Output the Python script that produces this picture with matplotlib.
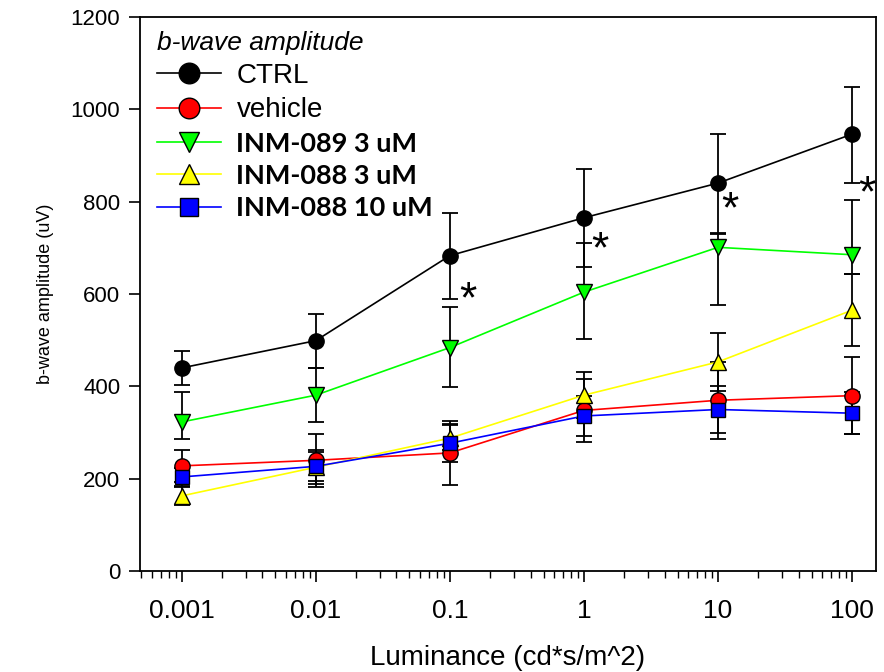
import numpy as np
import matplotlib
matplotlib.use("Agg")
import matplotlib.pyplot as plt
from matplotlib.font_manager import FontProperties

plt.rcParams['font.family'] = ['Liberation Sans', 'DejaVu Sans']

# -------------------------
# Datos
# -------------------------
luminance = [0.001, 0.01, 0.1, 1, 10, 100]

ctrl = [440, 499, 683, 765, 840, 946]
ctrl_lo = [36, 60, 93, 107, 110, 105]
ctrl_hi = [37, 58, 93, 105, 107, 102]

vehicle = [228, 240, 256, 348, 370, 380]
vehicle_lo = [36, 58, 70, 68, 84, 83]
vehicle_hi = [34, 58, 70, 68, 82, 83]

inm089_3 = [323, 381, 484, 604, 701, 685]
inm089_3_lo = [37, 58, 85, 101, 125, 42]
inm089_3_hi = [65, 58, 88, 106, 30, 118]

inm088_3 = [163, 225, 288, 381, 453, 565]
inm088_3_lo = [20, 37, 25, 50, 63, 78]
inm088_3_hi = [20, 37, 30, 50, 63, 78]

inm088_10 = [204, 227, 277, 336, 350, 342]
inm088_10_lo = [20, 31, 40, 44, 50, 45]
inm088_10_hi = [20, 31, 40, 44, 50, 45]

# asteriscos (posicion en datos)
star_x = [0.136, 1.31, 12.3, 129]
star_y = [585, 693, 780, 815]

series = [
    ("CTRL", ctrl, ctrl_lo, ctrl_hi, "black", "o"),
    ("vehicle", vehicle, vehicle_lo, vehicle_hi, "#ff0000", "o"),
    ("INM-089 3 uM", inm089_3, inm089_3_lo, inm089_3_hi, "#00ff00", "v"),
    ("INM-088 3 uM", inm088_3, inm088_3_lo, inm088_3_hi, "#ffff00", "^"),
    ("INM-088 10 uM", inm088_10, inm088_10_lo, inm088_10_hi, "#0000ff", "s"),
]

# -------------------------
# Figura
# -------------------------
fig = plt.figure(figsize=(8.84, 6.72), dpi=100)
ax = fig.add_axes([0.158, 0.150, 0.833, 0.825])

for name, y, lo, hi, col, mk in series:
    ax.errorbar(luminance, y, yerr=[lo, hi], fmt='none', ecolor='black',
                elinewidth=1.3, capsize=6, capthick=1.3, zorder=2)

for name, y, lo, hi, col, mk in series:
    ms = 10 if mk == "s" else 11
    ax.plot(luminance, y, color=col, lw=1.2, marker=mk, ms=ms,
            mfc=col, mec='black', mew=1.0, label=name, zorder=3)

for sx, sy in zip(star_x, star_y):
    ax.text(sx, sy, '*', fontsize=32, ha='center', va='center', color='black')

ax.set_xscale('log')
ax.set_xlim(4.86e-4, 151)
ax.set_ylim(0, 1200)
ax.set_xticks(luminance)
ax.set_xticklabels(['0.001', '0.01', '0.1', '1', '10', '100'])
ax.set_yticks([0, 200, 400, 600, 800, 1000, 1200])

ax.tick_params(axis='x', which='major', direction='out', length=8, width=1.2,
               labelsize=19, pad=12)
ax.tick_params(axis='x', which='minor', direction='out', length=5, width=1.0)
ax.tick_params(axis='y', direction='out', length=8, width=1.2, labelsize=16, pad=6)

for sp in ax.spines.values():
    sp.set_linewidth(1.3)

ax.set_xlabel('Luminance (cd*s/m^2)', fontsize=20, labelpad=16)
ax.set_ylabel('b-wave amplitude (uV)', fontsize=13, labelpad=12,
              family=['Liberation Sans Narrow', 'Liberation Sans'])

leg = ax.legend(loc='upper left', bbox_to_anchor=(0.005, 1.0), frameon=False,
                title='b-wave amplitude', alignment='left', fontsize=20,
                title_fontsize=19, handlelength=2.3, handletextpad=0.55,
                labelspacing=0.3, markerscale=1.35, borderaxespad=0.1)
leg.get_title().set_fontstyle('italic')

bold = FontProperties(family=['Lato', 'DejaVu Sans'], weight='bold', size=19.5)
for t in leg.get_texts():
    if t.get_text().startswith('INM'):
        t.set_fontproperties(bold)

fig.savefig('out.png', dpi=100)
